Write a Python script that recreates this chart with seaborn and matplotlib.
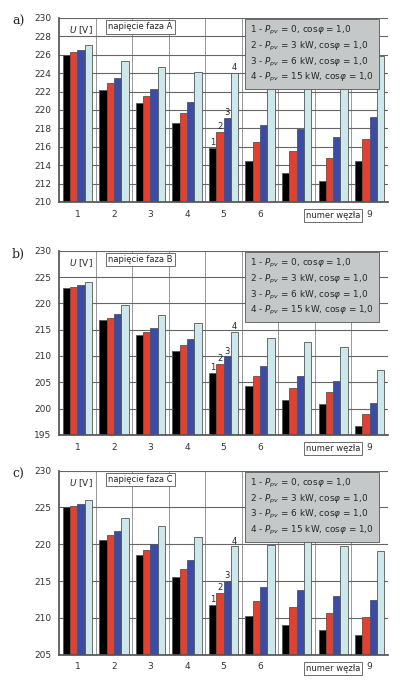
import matplotlib
matplotlib.use("Agg")
import matplotlib.pyplot as plt
import seaborn as sns
import pandas as pd

nodes = [1, 2, 3, 4, 5, 6, 7, 8, 9]
series = ["1", "2", "3", "4"]
A1 = [226.0, 222.2, 220.7, 218.6, 215.9, 214.4, 213.1, 212.3, 214.4]
A2 = [226.3, 222.9, 221.5, 219.7, 217.6, 216.5, 215.5, 214.8, 216.8]
A3 = [226.5, 223.5, 222.3, 220.9, 219.1, 218.4, 217.9, 217.1, 219.2]
A4 = [227.1, 225.3, 224.7, 224.1, 224.0, 224.1, 224.5, 223.8, 225.9]
B1 = [223.0, 216.8, 214.0, 211.0, 206.8, 204.3, 201.6, 200.8, 196.7]
B2 = [223.2, 217.3, 214.6, 212.1, 208.4, 206.2, 203.9, 203.1, 198.9]
B3 = [223.5, 217.9, 215.4, 213.2, 209.9, 208.0, 206.1, 205.3, 201.1]
B4 = [224.1, 219.6, 217.8, 216.3, 214.5, 213.4, 212.7, 211.7, 207.3]
C1 = [225.0, 220.6, 218.5, 215.6, 211.7, 210.3, 209.1, 208.3, 207.7]
C2 = [225.2, 221.2, 219.2, 216.7, 213.4, 212.3, 211.5, 210.7, 210.1]
C3 = [225.4, 221.8, 220.1, 217.8, 215.0, 214.2, 213.8, 213.0, 212.4]
C4 = [226.0, 223.6, 222.5, 221.0, 219.7, 219.9, 220.6, 219.7, 219.1]
tick_labels = ["1", "2", "3", "4", "5", "6", "", "", "9"]
legend_lines = ["1 - $P_{pv}$ = 0, cos$\\varphi$ = 1,0",
                "2 - $P_{pv}$ = 3 kW, cos$\\varphi$ = 1,0",
                "3 - $P_{pv}$ = 6 kW, cos$\\varphi$ = 1,0",
                "4 - $P_{pv}$ = 15 kW, cos$\\varphi$ = 1,0"]
colors = ["#000000", "#ff2a10", "#2a40b8", "#c8ecf0"]

panels = [
    ("a)", "napięcie faza A", [A1, A2, A3, A4], 210, 230, 2, 0.706),
    ("b)", "napięcie faza B", [B1, B2, B3, B4], 195, 230, 5, 0.367),
    ("c)", "napięcie faza C", [C1, C2, C3, C4], 205, 230, 5, 0.047),
]

sns.set_theme(style="white")
plt.rcParams['font.family'] = ['DejaVu Sans']
fig = plt.figure(figsize=(4.02, 6.87), dpi=100)

for lab, title, vals, lo, hi, step, bottom in panels:
    rows = []
    for s, v in zip(series, vals):
        for n, y in zip(nodes, v):
            rows.append({"node": n, "series": s, "U": y})
    df = pd.DataFrame(rows)
    ax = fig.add_axes([0.147, bottom, 0.818, 0.268])
    sns.barplot(data=df, x="node", y="U", hue="series", palette=colors,
                width=0.8, ax=ax, legend=False, edgecolor="#555555", linewidth=0.6)
    ax.set_ylim(lo, hi)
    ax.set_yticks(range(lo, hi + 1, step))
    ax.set_xlim(-0.5, 8.5)
    ax.set_xticks(range(9))
    ax.set_xticklabels(tick_labels)
    ax.tick_params(labelsize=6.5, colors="#333333", length=2)
    ax.set_xlabel("")
    ax.set_ylabel("")
    ax.grid(axis="y", color="#666666", linewidth=0.8)
    for xg in range(9):
        ax.axvline(xg + 0.5, color="#888888", linewidth=0.6, zorder=0)
    ax.set_axisbelow(True)
    for sp in ["top", "right"]:
        ax.spines[sp].set_visible(False)
    for sp in ["left", "bottom"]:
        ax.spines[sp].set_color("#555555")
    fig.text(0.03, bottom + 0.258, lab, fontsize=9, family="serif")
    ax.text(0.03, 0.965, "$U$ [V]", transform=ax.transAxes, fontsize=6.5, va="top")
    ax.text(0.15, 0.975, title, transform=ax.transAxes, fontsize=6, va="top",
            bbox=dict(facecolor="white", edgecolor="#555555", pad=1.5, linewidth=0.6))
    ax.text(0.58, 0.965, "\n".join(legend_lines), transform=ax.transAxes, fontsize=6.4,
            va="top", linespacing=1.3,
            bbox=dict(facecolor="#c4c8c8", edgecolor="#555555", pad=3.5, linewidth=0.6))
    ax.text(7.0, lo - (hi - lo) * 0.075, "numer węzła", fontsize=6, ha="center", va="center",
            bbox=dict(facecolor="white", edgecolor="#555555", pad=1.5, linewidth=0.6))
    cont = ax.containers
    for i, c in enumerate(cont):
        b = c[4]
        ax.text(b.get_x() + b.get_width() / 2, b.get_height() + (hi - lo) * 0.005,
                series[i], ha="center", va="bottom", fontsize=6)

fig.savefig("out.png", dpi=100)
